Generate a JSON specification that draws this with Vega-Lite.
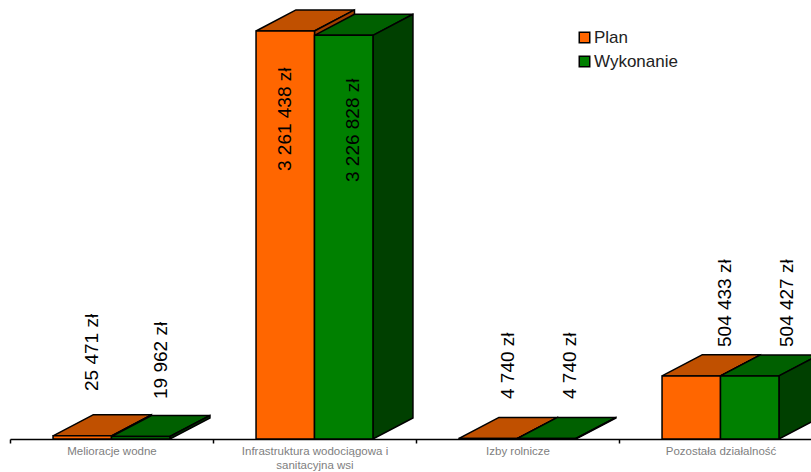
{"$schema":"https://vega.github.io/schema/vega-lite/v6.json","width":811,"height":439,"autosize":"none","padding":{"left":0,"top":0,"right":0,"bottom":33},"background":"white","config":{"view":{"stroke":null}},
"data":{"values":[
{"nr":0,"kategoria":"Melioracje wodne","seria":"Plan","wartosc":25471,"etykieta":"25 471 zł"},
{"nr":0,"kategoria":"Melioracje wodne","seria":"Wykonanie","wartosc":19962,"etykieta":"19 962 zł"},
{"nr":1,"kategoria":"Infrastruktura wodociągowa i sanitacyjna wsi","seria":"Plan","wartosc":3261438,"etykieta":"3 261 438 zł"},
{"nr":1,"kategoria":"Infrastruktura wodociągowa i sanitacyjna wsi","seria":"Wykonanie","wartosc":3226828,"etykieta":"3 226 828 zł"},
{"nr":2,"kategoria":"Izby rolnicze","seria":"Plan","wartosc":4740,"etykieta":"4 740 zł"},
{"nr":2,"kategoria":"Izby rolnicze","seria":"Wykonanie","wartosc":4740,"etykieta":"4 740 zł"},
{"nr":3,"kategoria":"Pozostała działalność","seria":"Plan","wartosc":504433,"etykieta":"504 433 zł"},
{"nr":3,"kategoria":"Pozostała działalność","seria":"Wykonanie","wartosc":504427,"etykieta":"504 427 zł"}]},
"transform":[
{"calculate":"datum.nr+(datum.seria==='Plan'?0.212:0.5)","as":"x0"},
{"calculate":"datum.nr+(datum.seria==='Plan'?0.5:0.788)","as":"x1"},
{"calculate":"datum.seria==='Plan'?[0.406,1.357,2.451,3.52][datum.nr]:[0.744,1.69,2.759,3.83][datum.nr]","as":"lx"},
{"calculate":"datum.seria==='Plan'?[383700,2142000,319800,735400][datum.nr]:[319800,2054000,319800,735400][datum.nr]","as":"ly"},
{"calculate":"[0,1]","as":"t"},{"flatten":["t"]},
{"calculate":"datum.x0+datum.t*0.197","as":"tx0"},
{"calculate":"datum.x1+datum.t*0.197","as":"tx1"},
{"calculate":"datum.t*168000","as":"dy"},
{"calculate":"datum.wartosc+datum.dy","as":"ty"}],
"layer":[
{"transform":[{"filter":"datum.seria==='Plan'"}],"mark":{"type":"area","orient":"horizontal","fill":"#C05000","stroke":"black","strokeWidth":1.5,"clip":true},"encoding":{"detail":{"field":"kategoria"},"y":{"field":"ty","type":"quantitative","stack":null,"scale":{"domain":[0,3509000],"nice":false,"zero":false},"axis":null},"x":{"field":"tx0","type":"quantitative","stack":null,"scale":{"domain":[0,3.9458],"range":[10,811],"nice":false,"zero":false},"axis":{"values":[0,0.5,1,1.5,2,2.5,3,3.5],"title":null,"grid":false,"domainColor":"black","domainWidth":1.5,"tickColor":"black","tickWidth":1.5,"tickSize":4,"tickOpacity":{"condition":{"test":"datum.value%1!==0","value":0},"value":1},"labelColor":"#808080","labelFont":"Liberation Sans","labelFontSize":11.5,"labelPadding":2,"labelOverlap":false,"labelFlush":false,"labelBound":false,"labelLineHeight":14,"labelExpr":"datum.value===0.5?'Melioracje wodne':datum.value===1.5?['Infrastruktura wodociągowa i','sanitacyjna wsi']:datum.value===2.5?'Izby rolnicze':datum.value===3.5?'Pozostała działalność':''"}},"x2":{"field":"tx1"}}},
{"transform":[{"filter":"datum.seria==='Plan'"}],"mark":{"type":"area","fill":"#A04000","stroke":"black","strokeWidth":1.5,"clip":true},"encoding":{"detail":{"field":"kategoria"},"x":{"field":"tx1","type":"quantitative","stack":null},"y":{"field":"ty","type":"quantitative","stack":null},"y2":{"field":"dy"}}},
{"transform":[{"filter":"datum.seria==='Wykonanie'"}],"mark":{"type":"area","orient":"horizontal","fill":"#006000","stroke":"black","strokeWidth":1.5,"clip":true},"encoding":{"detail":{"field":"kategoria"},"y":{"field":"ty","type":"quantitative","stack":null},"x":{"field":"tx0","type":"quantitative","stack":null},"x2":{"field":"tx1"}}},
{"transform":[{"filter":"datum.seria==='Wykonanie'"}],"mark":{"type":"area","fill":"#004000","stroke":"black","strokeWidth":1.5,"clip":true},"encoding":{"detail":{"field":"kategoria"},"x":{"field":"tx1","type":"quantitative","stack":null},"y":{"field":"ty","type":"quantitative","stack":null},"y2":{"field":"dy"}}},
{"transform":[{"filter":"datum.t===0"}],"mark":{"type":"rect","stroke":"black","strokeWidth":1.5},"encoding":{"x":{"field":"x0","type":"quantitative"},"x2":{"field":"x1"},"y":{"field":"wartosc","type":"quantitative"},"y2":{"datum":0},"color":{"field":"seria","type":"nominal","scale":{"domain":["Plan","Wykonanie"],"range":["#FF6600","#008000"]},"legend":{"title":null,"orient":"none","legendX":576,"legendY":29,"symbolType":"square","symbolSize":110,"symbolStrokeColor":"black","symbolStrokeWidth":1.5,"labelFont":"Liberation Sans","labelFontSize":17,"labelColor":"#222222","labelOffset":1,"rowPadding":6}}}},
{"transform":[{"filter":"datum.t===0"}],"mark":{"type":"text","angle":270,"align":"left","baseline":"middle","font":"Liberation Sans","fontSize":19,"color":"black","clip":true},"encoding":{"x":{"field":"lx","type":"quantitative"},"y":{"field":"ly","type":"quantitative"},"text":{"field":"etykieta"}}}
]}
